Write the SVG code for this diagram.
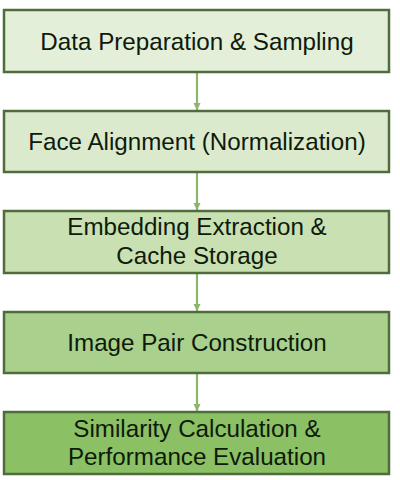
<svg xmlns="http://www.w3.org/2000/svg" width="400" height="480" viewBox="0 0 400 480">
<style>
.box{stroke:#506b3c;stroke-width:2.5}
.lbl{font-family:"Liberation Sans",Arial,sans-serif;font-size:24.2px;fill:#0e1a0a;text-anchor:middle}
.conn{stroke:#8db56b;stroke-width:2.2;fill:none}
</style>
<defs>
<marker id="ah" viewBox="0 0 8 8" refX="7" refY="4" markerWidth="8" markerHeight="8" markerUnits="userSpaceOnUse" orient="auto">
<path d="M0,0.5 L7.5,4 L0,7.5 Z" fill="#8db56b"/>
</marker>
</defs>
<rect width="400" height="480" fill="#ffffff"/>
<g id="connectors">
<line class="conn" x1="197" y1="73" x2="197" y2="110" marker-end="url(#ah)"/>
<line class="conn" x1="197" y1="173" x2="197" y2="210" marker-end="url(#ah)"/>
<line class="conn" x1="197" y1="274" x2="197" y2="311" marker-end="url(#ah)"/>
<line class="conn" x1="197" y1="374" x2="197" y2="411" marker-end="url(#ah)"/>
</g>
<g id="node1">
<rect class="box" x="4" y="10" width="385" height="62" fill="#e3efd9"/>
<text class="lbl" x="197" y="49.5">Data Preparation &amp; Sampling</text>
</g>
<g id="node2">
<rect class="box" x="4" y="111" width="385" height="61" fill="#dbeacd"/>
<text class="lbl" x="197" y="150">Face Alignment (Normalization)</text>
</g>
<g id="node3">
<rect class="box" x="4" y="211" width="385" height="62" fill="#c8e0b2"/>
<text class="lbl" x="197" y="235">Embedding Extraction &amp;</text>
<text class="lbl" x="197" y="264">Cache Storage</text>
</g>
<g id="node4">
<rect class="box" x="4" y="312" width="385" height="61" fill="#a9d08d"/>
<text class="lbl" x="197" y="351">Image Pair Construction</text>
</g>
<g id="node5">
<rect class="box" x="4" y="412" width="385" height="62" fill="#8bc064"/>
<text class="lbl" x="197" y="437">Similarity Calculation &amp;</text>
<text class="lbl" x="197" y="465">Performance Evaluation</text>
</g>
</svg>
